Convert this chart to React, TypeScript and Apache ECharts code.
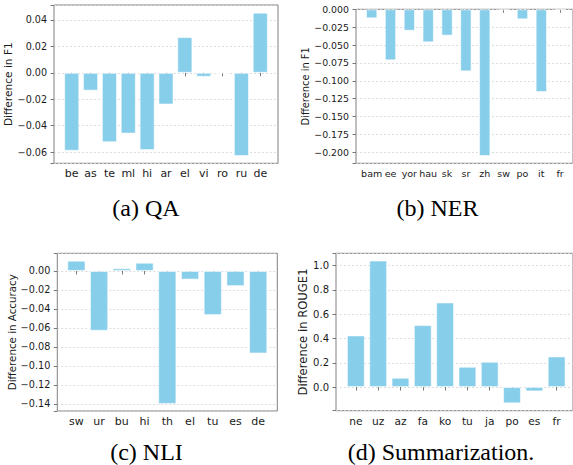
import React, { useEffect, useRef } from "react";
import * as echarts from "echarts";

// ---- data ----
const qaLangs = ["be", "as", "te", "ml", "hi", "ar", "el", "vi", "ro", "ru", "de"];
const qaDiff = [-0.059, -0.0135, -0.0525, -0.046, -0.0585, -0.024, 0.027, -0.003, -0.0005, -0.063, 0.0455];

const nerLangs = ["bam", "ee", "yor", "hau", "sk", "sr", "zh", "sw", "po", "it", "fr"];
const nerDiff = [-0.0126, -0.0714, -0.0299, -0.0462, -0.0368, -0.0868, -0.2053, -0.0014, -0.014, -0.1157, -0.001];

const nliLangs = ["sw", "ur", "bu", "hi", "th", "el", "tu", "es", "de"];
const nliDiff = [0.0108, -0.063, 0.0028, 0.0087, -0.1401, -0.0091, -0.0465, -0.016, -0.087];

const sumLangs = ["ne", "uz", "az", "fa", "ko", "tu", "ja", "po", "es", "fr"];
const sumDiff = [0.4247, 1.041, 0.0767, 0.5096, 0.696, 0.167, 0.208, -0.134, -0.0356, 0.252];

const captions = ["(a) QA", "(b) NER", "(c) NLI", "(d) Summarization."];
const yNames = ["Difference in F1", "Difference in F1", "Difference in Accuracy", "Difference in ROUGE1"];

// ---- layout / styling ----
type Panel = {
  cats: string[];
  vals: number[];
  name: string;
  left: number; top: number; width: number; height: number;
  barFrac: number;
  min: number; max: number; interval: number; decimals: number;
  tickFont: number; catFont: number; nameFont: number; nameGap: number;
};

const panels: Panel[] = [
  { cats: qaLangs, vals: qaDiff, name: yNames[0], left: 54, top: 5, width: 224, height: 158.3, barFrac: 0.8,
    min: -0.0685, max: 0.0513, interval: 0.02, decimals: 2, tickFont: 9.6, catFont: 11, nameFont: 10.6, nameGap: 37 },
  { cats: nerLangs, vals: nerDiff, name: yNames[1], left: 356, top: 9.3, width: 219.8, height: 154, barFrac: 0.6,
    min: -0.2155, max: 0, interval: 0.025, decimals: 3, tickFont: 9.4, catFont: 9.5, nameFont: 9.9, nameGap: 42 },
  { cats: nliLangs, vals: nliDiff, name: yNames[2], left: 57.3, top: 253.3, width: 220, height: 157.7, barFrac: 0.8,
    min: -0.1476, max: 0.0186, interval: 0.02, decimals: 2, tickFont: 9.7, catFont: 11, nameFont: 10.3, nameGap: 37 },
  { cats: sumLangs, vals: sumDiff, name: yNames[3], left: 336, top: 253.3, width: 240.5, height: 157.4, barFrac: 0.8,
    min: -0.1945, max: 1.1005, interval: 0.2, decimals: 1, tickFont: 10, catFont: 10.6, nameFont: 11.6, nameGap: 22 },
];

const captionPos = [
  [146, 207.5],
  [437.5, 207.5],
  [146.5, 452],
  [441, 452],
];

const SANS = "DejaVu Sans";
const SERIF = "'Liberation Serif', 'Times New Roman', Times, 'DejaVu Serif', serif";
const TEXT = "#1a1a1a";
const FRAME = "#808080";
const BAR = "#87CEEB";

function fmt(v: number, iv: number, d: number): string {
  const k = v / iv;
  if (Math.abs(k - Math.round(k)) > 1e-6) return "";
  const s = Math.abs(v) < 1e-12 ? (0).toFixed(d) : v.toFixed(d);
  return s.replace("-", "\u2212");
}

function buildOption() {
  const grid: any[] = [];
  const xAxis: any[] = [];
  const yAxis: any[] = [];
  const series: any[] = [];

  panels.forEach((p) => {
    const n = p.cats.length;
    const margin = p.barFrac / 2 + 0.05 * (n - 1 + p.barFrac);
    const spacing = p.width / (n - 1 + 2 * margin);
    const inset = (margin - 0.5) * spacing;

    const fi = grid.length;
    grid.push({
      left: p.left, top: p.top, width: p.width, height: p.height,
      show: true, borderColor: FRAME, borderWidth: 1, backgroundColor: "transparent",
    });
    const bi = grid.length;
    grid.push({
      left: p.left + inset, top: p.top, width: p.width - 2 * inset, height: p.height,
    });

    xAxis.push({ gridIndex: fi, type: "value", show: false, min: 0, max: 1 });
    yAxis.push({
      gridIndex: fi, type: "value", min: p.min, max: p.max,
      minInterval: p.interval, maxInterval: p.interval,
      axisLine: { show: false },
      axisTick: { show: true, length: 3.5, lineStyle: { color: "#555", width: 0.8 } },
      axisLabel: {
        fontSize: p.tickFont, fontFamily: SANS, color: TEXT, margin: 7,
        formatter: (v: number) => fmt(v, p.interval, p.decimals),
      },
      splitLine: { show: true, lineStyle: { color: "#d4d4d4", width: 0.8, type: [2, 2] } },
      name: p.name, nameLocation: "middle", nameGap: p.nameGap,
      nameTextStyle: { fontSize: p.nameFont, fontFamily: SANS, color: TEXT },
    });

    xAxis.push({
      gridIndex: bi, type: "category", data: p.cats,
      axisLine: { show: false },
      axisTick: { show: true, alignWithLabel: true, length: 3.5, lineStyle: { color: "#555", width: 0.8 } },
      axisLabel: { interval: 0, fontSize: p.catFont, fontFamily: SANS, color: TEXT, margin: 5 },
      splitLine: { show: false },
    });
    yAxis.push({ gridIndex: bi, type: "value", min: p.min, max: p.max, show: false, splitLine: { show: false } });

    series.push({
      type: "bar",
      xAxisIndex: xAxis.length - 1,
      yAxisIndex: yAxis.length - 1,
      data: p.vals,
      barWidth: `${p.barFrac * 100}%`,
      itemStyle: { color: BAR, borderColor: "rgba(255,255,255,0.55)", borderWidth: 1 },
    });
  });

  const graphic = captions.map((c, i) => ({
    type: "text",
    x: captionPos[i][0],
    y: captionPos[i][1],
    style: {
      text: c,
      fontFamily: SERIF,
      fontSize: 24,
      fill: "#000",
      align: "center",
      verticalAlign: "middle",
    },
  }));

  return {
    animation: false,
    backgroundColor: "#fff",
    textStyle: { fontFamily: SANS },
    grid, xAxis, yAxis, series, graphic,
  };
}

export default function App() {
  const ref = useRef<HTMLDivElement>(null);
  useEffect(() => {
    if (!ref.current) return;
    const chart = echarts.init(ref.current, undefined, { renderer: "svg" });
    chart.setOption(buildOption() as any);
    return () => chart.dispose();
  }, []);
  return (
    <div
      ref={ref}
      style={{ position: "fixed", left: 0, top: 0, width: 573, height: 465 }}
    />
  );
}
